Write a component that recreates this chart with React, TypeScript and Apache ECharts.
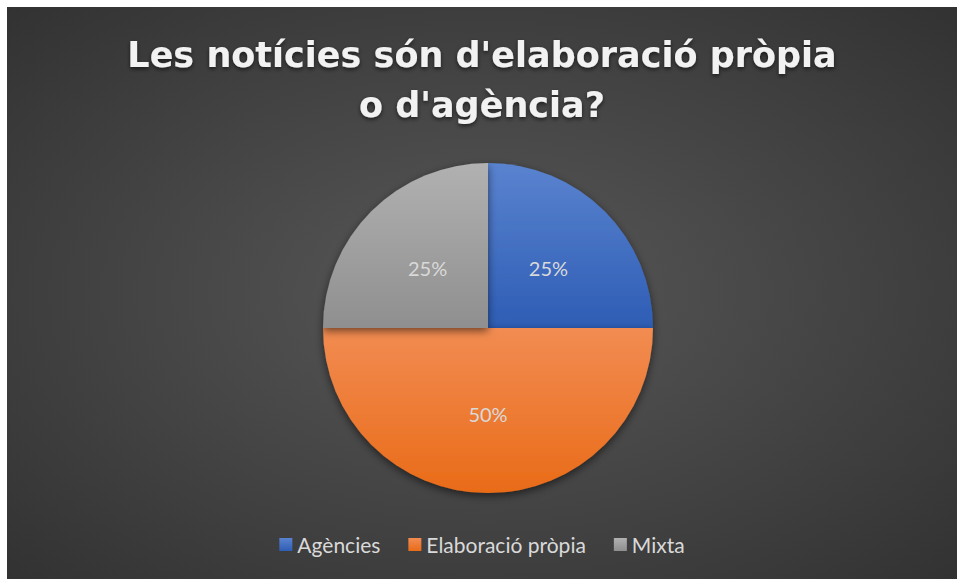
import React, { useEffect, useRef } from "react";
import * as echarts from "echarts";

const titleText = "Les notícies són d'elaboració pròpia\no d'agència?";
const categories = ["Agències", "Elaboració pròpia", "Mixta"];
const values = [25, 50, 25];
const topColors = ["#5a83cf", "#f28c52", "#b1b1b1"];
const bottomColors = ["#2e5db5", "#e96b18", "#8f8f8f"];

export default function App() {
  const ref = useRef<HTMLDivElement>(null);
  useEffect(() => {
    if (!ref.current) return;
    const chart = echarts.init(ref.current, undefined, { renderer: "svg" });
    const data = categories.map((name, i) => ({
      name,
      value: values[i],
      itemStyle: {
        color: new echarts.graphic.LinearGradient(0, 0, 0, 1, [
          { offset: 0, color: topColors[i] },
          { offset: 1, color: bottomColors[i] },
        ]),
      },
    }));
    chart.setOption({
      animation: false,
      backgroundColor: new echarts.graphic.RadialGradient(0.5, 0.5, 0.95, [
        { offset: 0, color: "#585858" },
        { offset: 1, color: "#252525" },
      ]),
      title: {
        text: titleText,
        left: "center",
        top: 18,
        textStyle: {
          fontFamily: "DejaVu Sans",
          fontWeight: "bold",
          fontSize: 35,
          lineHeight: 50,
          color: "#f2f2f2",
          textShadowColor: "rgba(0,0,0,0.6)",
          textShadowBlur: 4,
          textShadowOffsetY: 2,
        },
      },
      legend: {
        top: 522,
        left: "center",
        itemWidth: 13,
        itemHeight: 13,
        itemGap: 28,
        icon: "rect",
        textStyle: { fontFamily: "Lato", fontSize: 21, color: "#d9d9d9" },
        data: categories,
      },
      series: [
        {
          type: "pie",
          center: [481, 321],
          radius: 165,
          startAngle: 90,
          clockwise: true,
          label: {
            show: true,
            position: "inside",
            formatter: "{d}%",
            fontFamily: "Lato",
            fontSize: 20,
            color: "#d9d9d9",
          },
          labelLine: { show: false },
          itemStyle: {
            shadowColor: "rgba(0,0,0,0.55)",
            shadowBlur: 8,
            shadowOffsetY: 3,
          },
          emphasis: { disabled: true },
          data,
        },
      ],
    });
    return () => chart.dispose();
  }, []);
  return (
    <div
      ref={ref}
      style={{ position: "absolute", left: 7, top: 7, width: 950, height: 572 }}
    />
  );
}
